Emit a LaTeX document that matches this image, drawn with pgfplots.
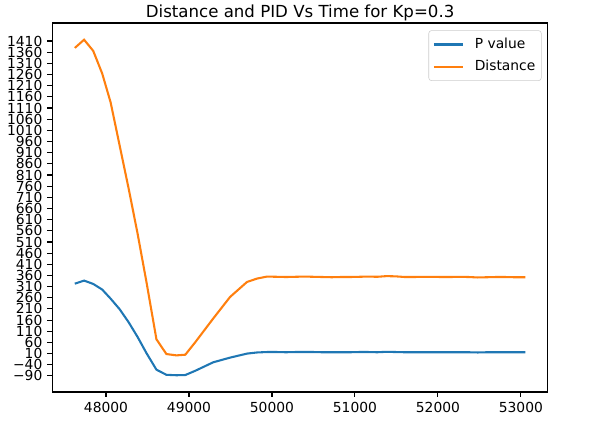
\documentclass[border=0pt]{standalone}
\usepackage{pgfplots}
\pgfplotsset{compat=1.18}
\usepackage{fontspec}
\setmainfont{DejaVu Sans}

\definecolor{mplblue}{HTML}{1F77B4}
\definecolor{mplorange}{HTML}{FF7F0E}

% time, P value, distance
\pgfplotstableread{
t      p     d
47624  323   1379
47736  337   1416
47846  322   1366
47954  297   1265
48056  256   1135
48164  209   943
48272  151   751
48380  85    549
48488  12    330
48608  -62   74
48728  -85   8
48848  -87   2
48956  -86   5
49076  -67   61
49292  -29   167
49496  -8    264
49700  10    331
49820  15    346
49940  17    355
50060  17    354
50170  16    353
50280  17    354
50390  17    355
50500  17    354
50610  16    353
50720  16    352
50830  16    353
50940  16    353
51050  17    354
51160  17    355
51270  16    354
51380  18    357
51490  17    356
51600  16    353
51710  16    353
51820  16    354
51930  16    354
52040  16    353
52150  16    353
52260  16    354
52370  16    353
52480  15    351
52590  16    352
52700  16    353
52810  16    353
52920  16    352
53055  16    352
}\data

\begin{document}
\begin{tikzpicture}
    \begin{axis}[
            ,scale only axis
            ,width          = 358.2pt
            ,height         = 266.7pt
            ,xmin           = 47353
            ,xmax           = 53326
            ,ymin           = -162
            ,ymax           = 1491
            ,axis line style = {line width=0.8pt}
            ,tick style     = {black, line width=0.8pt}
            ,tick align     = outside
            ,major tick length = 3.5pt
            ,xtick pos      = bottom
            ,ytick pos      = left
            ,scaled x ticks = false
            ,scaled y ticks = false
            ,xtick          = {48000,49000,...,53000}
            ,xticklabels    = {48000,49000,50000,51000,52000,53000}
            ,ytick          = {-90,-40,...,1410}
            ,yticklabels    = {−90,−40,10,60,110,160,210,260,310,360,410,460,510,560,610,660,710,760,810,860,910,960,1010,1060,1110,1160,1210,1260,1310,1360,1410}
            ,ticklabel style = {font=\fontsize{10}{10}\selectfont}
            ,yticklabel style = {inner sep=0pt, xshift=-3.5pt}
            ,xticklabel style = {inner sep=0pt, yshift=-3.5pt}
            ,every axis title shift = 0pt
            ,title          = {Distance and PID Vs Time for Kp=0.3}
            ,title style    = {font=\fontsize{12}{12}\selectfont, inner sep=0pt, anchor=base, yshift=4.3pt}
            ,legend cell align = left
            ,legend style   = {at={(1,1)}, anchor=north east, xshift=-4.6pt, yshift=-5.3pt,
                               draw=black!20, rounded corners=2pt, font=\fontsize{10}{10}\selectfont,
                               inner xsep=3pt, inner ysep=4pt, row sep=4pt, column sep=6.5pt,
                               nodes={inner xsep=1.3pt, inner ysep=1.5pt}}
            ,legend image code/.code = {\draw[#1] (0pt,0pt) -- (21pt,0pt);}
            ]
        \addplot [color=mplblue, line width=1.5pt, no marks] table [x=t, y=p] {\data};
        \addlegendentry{P value}
        \addplot [color=mplorange, line width=1.5pt, no marks] table [x=t, y=d] {\data};
        \addlegendentry{Distance}
        \coordinate (bl) at (rel axis cs:0,0);
        \coordinate (tr) at (rel axis cs:1,1);
    \end{axis}
    \pgfresetboundingbox
    \path[use as bounding box] ([xshift=-37.8pt,yshift=-23.9pt]bl) rectangle ([xshift=30.4pt,yshift=16.6pt]tr);
\end{tikzpicture}
\end{document}
